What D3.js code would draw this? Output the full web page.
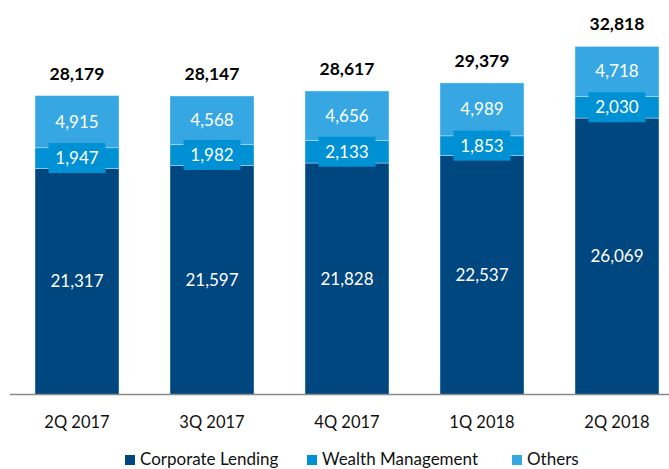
<!DOCTYPE html>
<html>
<head>
<meta charset="utf-8">
<script src="https://cdn.jsdelivr.net/npm/d3@7"></script>
<style>
  body { margin: 0; background: #fff; }
  svg { display: block; font-family: Lato, "Open Sans", sans-serif; }
</style>
</head>
<body>
<svg id="chart"></svg>
<script>
// DATA
const quarters = ["2Q 2017", "3Q 2017", "4Q 2017", "1Q 2018", "2Q 2018"];
const series = ["Corporate Lending", "Wealth Management", "Others"];
const corporateLending = [21317, 21597, 21828, 22537, 26069];
const wealthManagement = [1947, 1982, 2133, 1853, 2030];
const others = [4915, 4568, 4656, 4989, 4718];
const totals = [28179, 28147, 28617, 29379, 32818];

const colors = ["#00467f", "#0091d5", "#37a7e4"];

const width = 669, height = 469;
const margin = { top: 0, right: 0, bottom: 74, left: 10 };

const rows = quarters.map((q, i) => ({
    quarter: q,
    "Corporate Lending": corporateLending[i],
    "Wealth Management": wealthManagement[i],
    "Others": others[i],
    total: totals[i]
}));

const svg = d3.select("#chart")
    .attr("width", width)
    .attr("height", height);

// SCALES
const xScale = d3.scaleBand()
    .domain(quarters)
    .range([9.5, 684.5])
    .paddingInner(0.378)
    .paddingOuter(0.189);

const yScale = d3.scaleLinear()
    .domain([0, 37200])
    .range([height - margin.bottom - 0.5, 0]);

const stacked = d3.stack().keys(series)(rows);

// BARS
const layers = svg.selectAll("g.layer")
    .data(stacked)
    .join("g")
    .attr("class", "layer")
    .attr("fill", (d, i) => colors[i]);

layers.selectAll("rect")
    .data(d => d)
    .join("rect")
    .attr("x", d => xScale(d.data.quarter))
    .attr("y", d => yScale(d[1]))
    .attr("width", xScale.bandwidth())
    .attr("height", d => yScale(d[0]) - yScale(d[1]))
    .attr("stroke", "#d6ecf8")
    .attr("stroke-width", 0.6)
    .attr("stroke-opacity", 0.7);

// AXIS
const xAxisGroup = svg.append("g")
    .attr("transform", `translate(0, ${yScale(0)})`)
    .call(d3.axisBottom(xScale).tickSize(0).tickPadding(22));

xAxisGroup.select(".domain")
    .attr("stroke", "#8a8a8a")
    .attr("stroke-width", 1.5)
    .attr("d", `M${margin.left},0H${width}`);

xAxisGroup.selectAll("text")
    .attr("font-family", "Lato, sans-serif")
    .attr("font-size", 16.5)
    .attr("fill", "#111");

// SEGMENT LABELS
stacked.forEach((layer, li) => {
    const g = svg.append("g").attr("class", "seg-labels");
    layer.forEach(d => {
        const cx = xScale(d.data.quarter) + xScale.bandwidth() / 2;
        const cy = (yScale(d[0]) + yScale(d[1])) / 2;
        // wealth management labels sit on a box of their own colour
        if (series[li] === "Wealth Management") {
            g.append("rect")
                .attr("fill", colors[li])
                .attr("x", cx - 28.5)
                .attr("y", cy - 15)
                .attr("width", 57)
                .attr("height", 30);
        }
        g.append("text")
            .attr("x", cx)
            .attr("y", cy)
            .attr("dy", "0.35em")
            .attr("text-anchor", "middle")
            .attr("font-size", 17)
            .attr("fill", "#fff")
            .text(d3.format(",")(d[1] - d[0]));
    });
});

// TOTAL LABELS
svg.selectAll("text.total")
    .data(rows)
    .join("text")
    .attr("class", "total")
    .attr("x", d => xScale(d.quarter) + xScale.bandwidth() / 2)
    .attr("y", d => yScale(d.total) - 16)
    .attr("text-anchor", "middle")
    .attr("font-size", 17.5)
    .attr("font-weight", "bold")
    .attr("fill", "#000")
    .text(d => d3.format(",")(d.total));

// LEGEND
const legendX = [125, 307, 512];
const legend = svg.selectAll("g.legend")
    .data(series)
    .join("g")
    .attr("class", "legend")
    .attr("transform", (d, i) => `translate(${legendX[i]}, 455)`);

legend.append("rect")
    .attr("width", 10)
    .attr("height", 10)
    .attr("fill", (d, i) => colors[i]);

legend.append("text")
    .attr("x", 15)
    .attr("y", 10)
    .attr("font-size", 17)
    .attr("fill", "#111")
    .text(d => d);
</script>
</body>
</html>
